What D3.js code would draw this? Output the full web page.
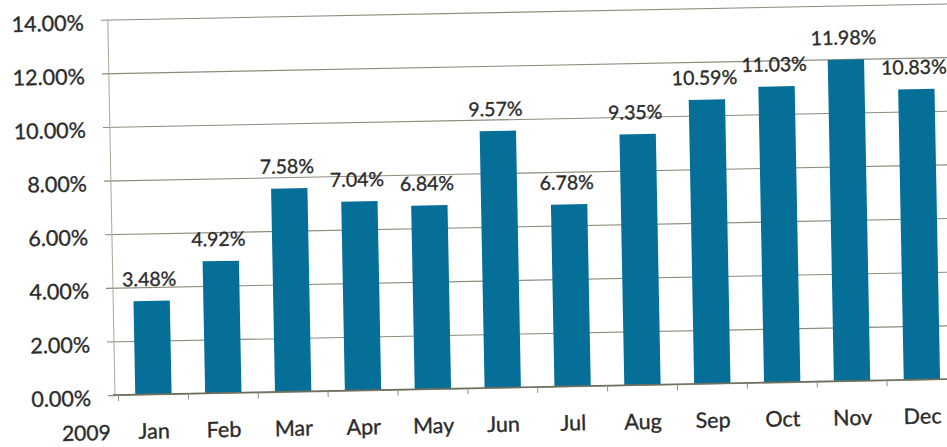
<!DOCTYPE html>
<html>
<head>
<meta charset="utf-8">
<script src="https://cdn.jsdelivr.net/npm/d3@7"></script>
<style>
  body { margin: 0; background: #fff; }
  svg { display: block; }
  text { font-family: Lato, "Open Sans", sans-serif; fill: #2b2b2b; stroke: #2b2b2b; stroke-width: 0.35px; }
</style>
</head>
<body>
<script>
// monthly values (percent)
const months = ['Jan','Feb','Mar','Apr','May','Jun','Jul','Aug','Sep','Oct','Nov','Dec'];
const rates = [3.48, 4.92, 7.58, 7.04, 6.84, 9.57, 6.78, 9.35, 10.59, 11.03, 11.98, 10.83];
const yTicks = [0, 2, 4, 6, 8, 10, 12, 14];
const yearLabel = '2009';

const W = 947, H = 447;
// plot box (before the little scan tilt)
const plotL = 115, plotR = 960, plotT = 19.5, plotB = 395;

const svg = d3.select('body').append('svg')
    .attr('width', W)
    .attr('height', H);

// the original is a slightly tilted scan, so tilt the whole chart a bit
const g = svg.append('g')
    .attr('transform', `rotate(-1.1, ${plotL}, ${plotB})`);

const x = d3.scaleBand()
    .domain(months)
    .range([118.5, 957])
    .paddingInner(0.48)
    .paddingOuter(0.24);

const y = d3.scaleLinear()
    .domain([0, 14])
    .range([plotB, plotT]);

// gridlines + y labels
const yAxis = d3.axisLeft(y)
    .tickValues(yTicks)
    .tickSize(-(plotR - plotL))
    .tickFormat(d => d.toFixed(2) + '%');

const yG = g.append('g')
    .attr('transform', `translate(${plotL},0)`)
    .call(yAxis);
yG.select('.domain').remove();
yG.selectAll('.tick line')
    .attr('x1', -7)
    .attr('stroke', '#8c8c7c')
    .attr('stroke-width', 1.1);
yG.selectAll('.tick text')
    .attr('x', -24)
    .attr('dy', 10)
    .style('font-size', '21.5px');

// vertical axis line
g.append('line')
    .attr('x1', plotL).attr('x2', plotL)
    .attr('y1', plotT).attr('y2', plotB)
    .attr('stroke', '#a8a898')
    .attr('stroke-width', 1);

// bars
g.selectAll('rect.bar')
    .data(rates)
    .join('rect')
    .attr('class', 'bar')
    .attr('x', (d, i) => x(months[i]))
    .attr('width', x.bandwidth())
    .attr('y', d => y(d))
    .attr('height', d => y(0) - y(d))
    .attr('fill', '#066f97');

// value labels
g.selectAll('text.val')
    .data(rates)
    .join('text')
    .attr('class', 'val')
    .attr('x', (d, i) => x(months[i]) + x.bandwidth() / 2 - 2)
    .attr('y', d => y(d) - 15)
    .attr('text-anchor', 'middle')
    .style('font-size', '19.5px')
    .text(d => d.toFixed(2) + '%');

// x axis: baseline, ticks between categories, month names
const xAxis = d3.axisBottom(x).tickSize(0).tickPadding(29);
const xG = g.append('g')
    .attr('transform', `translate(0,${plotB})`)
    .call(xAxis);
xG.select('.domain')
    .attr('d', `M${plotL - 2},0H${plotR}`)
    .attr('stroke', '#6e6e60')
    .attr('stroke-width', 1.5);
xG.selectAll('.tick text')
    .style('font-size', '21.5px');

const step = x.step();
const edges = months.map(m => x(m) - step * x.paddingInner() / 2);
xG.selectAll('line.sep')
    .data(edges)
    .join('line')
    .attr('class', 'sep')
    .attr('x1', d => d).attr('x2', d => d)
    .attr('y1', 0).attr('y2', 6)
    .attr('stroke', '#8c8c7c');

g.append('text')
    .attr('x', 110)
    .attr('y', plotB + 45)
    .attr('text-anchor', 'end')
    .style('font-size', '21px')
    .text(yearLabel);
</script>
</body>
</html>
